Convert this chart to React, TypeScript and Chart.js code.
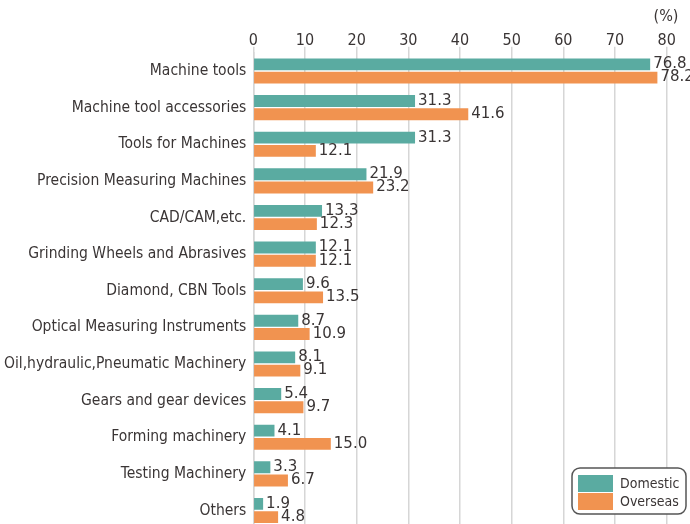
import React, { useEffect, useRef } from "react";
import { Chart, registerables } from "chart.js";

Chart.register(...registerables);

const categories = [
  "Machine tools",
  "Machine tool accessories",
  "Tools for Machines",
  "Precision Measuring Machines",
  "CAD/CAM,etc.",
  "Grinding Wheels and Abrasives",
  "Diamond, CBN Tools",
  "Optical Measuring Instruments",
  "Oil,hydraulic,Pneumatic Machinery",
  "Gears and gear devices",
  "Forming machinery",
  "Testing Machinery",
  "Others",
];
const domestic = [76.8, 31.3, 31.3, 21.9, 13.3, 12.1, 9.6, 8.7, 8.1, 5.4, 4.1, 3.3, 1.9];
const overseas = [78.2, 41.6, 12.1, 23.2, 12.3, 12.1, 13.5, 10.9, 9.1, 9.7, 15.0, 6.7, 4.8];
const seriesNames = ["Domestic", "Overseas"];
const unitLabel = "(%)";

const TEAL = "#5aaba1";
const ORANGE = "#f19350";
const TEXT = "#3a3535";
const COND = "'DejaVu Sans Condensed', 'Liberation Sans Narrow', sans-serif";
const VALFONT = "'DejaVu Sans', sans-serif";

const overlay = {
  id: "overlay",
  afterDatasetsDraw(chart: any) {
    const ctx = chart.ctx;
    ctx.save();
    ctx.font = `15px ${VALFONT}`;
    ctx.fillStyle = TEXT;
    ctx.textAlign = "left";
    ctx.textBaseline = "middle";
    chart.data.datasets.forEach((ds: any, di: number) => {
      const meta = chart.getDatasetMeta(di);
      meta.data.forEach((bar: any, i: number) => {
        const v = ds.data[i];
        ctx.fillText(v.toFixed(1), bar.x + 3, bar.y);
      });
    });
    ctx.font = `16px ${COND}`;
    ctx.textAlign = "center";
    ctx.fillText(unitLabel, 666, 17);
    const lx = 572, ly = 468, lw = 114, lh = 46, r = 8;
    ctx.beginPath();
    ctx.moveTo(lx + r, ly);
    ctx.arcTo(lx + lw, ly, lx + lw, ly + lh, r);
    ctx.arcTo(lx + lw, ly + lh, lx, ly + lh, r);
    ctx.arcTo(lx, ly + lh, lx, ly, r);
    ctx.arcTo(lx, ly, lx + lw, ly, r);
    ctx.closePath();
    ctx.fillStyle = "#ffffff";
    ctx.fill();
    ctx.lineWidth = 1.5;
    ctx.strokeStyle = "#555555";
    ctx.stroke();
    ctx.fillStyle = TEAL;
    ctx.fillRect(578, 475, 35, 17);
    ctx.fillStyle = ORANGE;
    ctx.fillRect(578, 493, 35, 17);
    ctx.fillStyle = TEXT;
    ctx.font = `14px ${COND}`;
    ctx.textAlign = "left";
    ctx.fillText(seriesNames[0], 620, 484);
    ctx.fillText(seriesNames[1], 620, 502);
    ctx.restore();
  },
};

export default function App() {
  const ref = useRef<HTMLCanvasElement>(null);
  useEffect(() => {
    const chart = new Chart(ref.current as HTMLCanvasElement, {
      type: "bar",
      data: {
        labels: categories,
        datasets: [
          { label: seriesNames[0], data: domestic, backgroundColor: TEAL },
          { label: seriesNames[1], data: overseas, backgroundColor: ORANGE },
        ],
      },
      options: {
        indexAxis: "y",
        responsive: false,
        animation: false,
        layout: { padding: { left: 0, right: 23.3, top: 0, bottom: 11.2 } },
        datasets: { bar: { categoryPercentage: 0.72, barPercentage: 0.9 } },
        plugins: { legend: { display: false }, tooltip: { enabled: false } },
        scales: {
          x: {
            position: "top",
            min: 0,
            max: 80,
            ticks: { stepSize: 10, color: TEXT, font: { family: COND, size: 16 }, padding: -4 },
            grid: { color: "#d6d6d6", lineWidth: 1.5, tickLength: 6, drawTicks: true },
            border: { display: false },
            afterFit: (s: any) => { s.height = 52.7; },
          },
          y: {
            ticks: { color: TEXT, font: { family: COND, size: 15.5 }, padding: 7, autoSkip: false },
            grid: { display: false, tickLength: 0 },
            border: { display: true, color: "#d6d6d6", width: 1.5 },
            afterFit: (s: any) => {
              s.width = 253.3;
              s.paddingTop = 0;
              s.paddingBottom = 0;
            },
          },
        },
      },
      plugins: [overlay],
    } as any);
    return () => chart.destroy();
  }, []);
  return (
    <div style={{ position: "absolute", left: 0, top: 0, width: 690, height: 540 }}>
      <canvas ref={ref} width={690} height={540} style={{ display: "block" }} />
    </div>
  );
}
